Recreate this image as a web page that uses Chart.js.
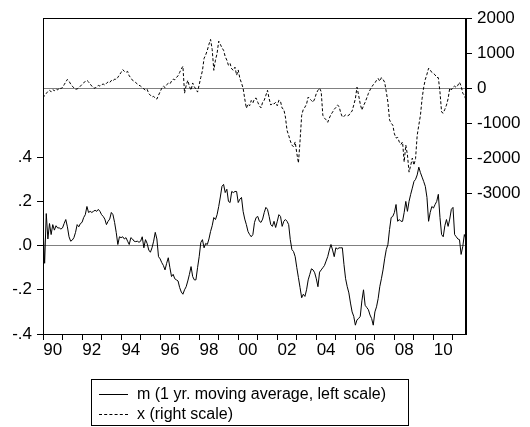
<!DOCTYPE html>
<html>
<head>
<meta charset="utf-8">
<script src="https://cdn.jsdelivr.net/npm/chart.js@4.4.0/dist/chart.umd.min.js"></script>
<style>
  html, body { margin: 0; padding: 0; background: #fff; }
  #wrap { position: relative; width: 530px; height: 427px; }
  #legend {
    position: absolute; left: 91px; top: 379px; width: 316px; height: 45px;
    border: 1px solid #000; font: 16px 'Liberation Sans', Arial, sans-serif; color: #000;
  }
  #legend .row { display: flex; align-items: center; height: 20px; margin-left: 7px; }
  #legend .row:first-child { margin-top: 4px; }
  #legend .swatch { width: 29px; height: 0; margin-right: 9px; border-top: 1px solid #000; }
</style>
</head>
<body>
<div id="wrap">
  <canvas id="chart" width="530" height="427"></canvas>
  <div id="legend"></div>
</div>
<script>
;(function () {
  'use strict'

  // monthly observations, 1990M01 onwards
  var startYear = 1990
  var mLabel = 'm (1 yr. moving average, left scale)'
  var xLabel = 'x (right scale)'

  var mValues = [
    0.09, -0.08, 0.145, 0.03, 0.10, 0.05, 0.095, 0.07, 0.09, 0.08, 0.08, 0.075,
    0.08, 0.10, 0.118, 0.085, 0.04, 0.02, 0.025, 0.036, 0.06, 0.095, 0.085, 0.10,
    0.105, 0.127, 0.14, 0.177, 0.15, 0.155, 0.15, 0.155, 0.16, 0.155, 0.164, 0.155,
    0.14, 0.132, 0.12, 0.095, 0.11, 0.12, 0.15, 0.14, 0.105, 0.06, 0.005, 0.04,
    0.036, 0.04, 0.03, 0.036, 0.02, 0.005, 0.036, 0.03, 0.02, 0.018, 0.02,
    0.015, 0.02, 0.04, -0.01, 0.027, 0.01, -0.02, -0.03, -0.01, 0.02, 0.06, 0.03,
    -0.05, -0.06, -0.077, -0.09, -0.11, -0.08, -0.055, -0.1, -0.14, -0.13, -0.15, -0.155,
    -0.16, -0.19, -0.21, -0.22, -0.2, -0.186, -0.16, -0.13, -0.095, -0.14, -0.155, -0.155,
    -0.1, -0.05, 0.014, 0.027, -0.01, 0.01, 0.005, 0.03, 0.064, 0.09, 0.127, 0.118,
    0.14, 0.177, 0.22, 0.268, 0.277, 0.24, 0.255, 0.2, 0.195, 0.245, 0.24, 0.245,
    0.245, 0.195, 0.21, 0.218, 0.155, 0.12, 0.095, 0.064, 0.05, 0.04, 0.05,
    0.105, 0.127, 0.132, 0.11, 0.105, 0.12, 0.15, 0.173, 0.164, 0.132, 0.095, 0.087,
    0.11, 0.082, 0.11, 0.14, 0.132, 0.087, 0.11, 0.118, 0.11, 0.095, 0.027, -0.018,
    -0.027, -0.05, -0.1, -0.145, -0.19, -0.236, -0.22, -0.23, -0.2, -0.155, -0.13, -0.105,
    -0.11, -0.123, -0.15, -0.186, -0.12, -0.11, -0.1, -0.09, -0.07, -0.05, -0.02, 0.005,
    -0.02, -0.05, -0.01, -0.015, -0.01, -0.01, -0.01, -0.086, -0.15, -0.186, -0.214,
    -0.26, -0.3, -0.32, -0.36, -0.336, -0.33, -0.32, -0.25, -0.2, -0.27, -0.28, -0.29,
    -0.314, -0.33, -0.36, -0.3, -0.277, -0.24, -0.186, -0.15, -0.11, -0.06, -0.018, 0.005,
    0.073, 0.127, 0.132, 0.15, 0.186, 0.11, 0.118, 0.11, 0.11, 0.15, 0.2, 0.155,
    0.2, 0.232, 0.26, 0.29, 0.3, 0.32, 0.355, 0.33, 0.31, 0.29, 0.268, 0.218,
    0.11, 0.15, 0.177, 0.17, 0.186, 0.2, 0.232, 0.127, 0.05, 0.04, 0.09, 0.118,
    0.087, 0.12, 0.164, 0.173, 0.05, 0.04, 0.03, 0.027, -0.04, -0.005, 0.05, 0.03
  ]

  var xValues = [
    -280, -200, -150, -90, -60, -100, -40, -70, -20, -50, 10, -10,
    20, 100, 180, 250, 200, 120, 60, 10, -30, -20, 10, 60,
    110, 150, 200, 225, 180, 120, 60, 10, 0, 50, 80, 60,
    100, 120, 90, 140, 180, 160, 220, 200, 260, 250, 310,
    380, 450, 530, 480, 450, 480, 350, 300, 225, 200, 160, 120,
    85, 60, 20, -20, -57, -30, -150, -200, -250, -230, -290, -310,
    -200, -100, 0, 60, 20, 100, 140, 120, 200, 260, 240, 310,
    350, 450, 550, 625, -140, 80, 225, 50, -57, 150, 40, -20,
    -110, 100, 310, 500, 850, 950, 1080, 1250, 1390, 1100, 510, 800,
    990, 1340, 1250, 1150, 1080, 900, 800, 650, 700, 550, 510, 600,
    370, 520, 280, 150, 0, -300, -570, -450, -500, -350, -420, -300,
    -280, -400, -500, -560, -400, -340, -200, -60, -300, -480, -430,
    -450, -400, -500, -340, -380, -570, -600, -820, -1200, -1340, -1500, -1620,
    -1670, -1530, -1850, -2130, -1500, -770, -600, -540, -450, -250, -300, -350,
    -400, -300, -150, -57, 0, -100, -770, -850, -900, -970, -850, -750,
    -680, -600, -550, -480, -520, -700, -820, -800, -760, -790, -770,
    -700, -650, -480, -300, 30, -200, -450, -620, -500, -400, -280, -150,
    -50, 30, 100, 150, 225, 280, 200, 300, 250, 170, -100, -400,
    -900, -1000, -1050, -1300, -1420, -1400, -1530, -1600, -1530, -2100, -1620, -1900,
    -2390, -2200, -1990, -2190, -2000, -1340, -1050, -770, -300, 30, 250, 400,
    570, 520, 450, 420, 380, 310, 300, -110, -680, -710, -600, -480,
    -300, 0, -50, 30, 60, 20, 85, 170, 60, -140, -200, -340
  ]

  var leftTicks = [-0.4, -0.2, 0, 0.2, 0.4]
  var rightTicks = [-3000, -2000, -1000, 0, 1000, 2000]

  var font = { family: "'Liberation Sans', Arial, sans-serif", size: 17 }

  var toPoints = function (values) {
    return values.map(function (v, i) {
      return { x: startYear + i / 12, y: v }
    })
  }

  var zeroLine = function (ctx) {
    return ctx.tick && ctx.tick.value === 0 ? '#808080' : 'rgba(0,0,0,0)'
  }

  var leftFormat = function (v) {
    var s = Math.abs(v).toFixed(1).replace(/^0/, '')
    return v < 0 ? '-' + s : s
  }

  var frame = {
    id: 'frame',
    afterDraw: function (chart) {
      var a = chart.chartArea
      var ctx = chart.ctx
      ctx.save()
      ctx.strokeStyle = '#000'
      ctx.lineWidth = 1
      ctx.strokeRect(Math.round(a.left) + 0.5, Math.round(a.top) + 0.5, Math.round(a.right - a.left) - 1, Math.round(a.bottom - a.top))
      ctx.restore()
    }
  }

  var htmlLegend = {
    id: 'htmlLegend',
    afterUpdate: function (chart) {
      var box = document.getElementById('legend')
      box.innerHTML = ''
      chart.data.datasets.forEach(function (ds) {
        var row = document.createElement('div')
        row.className = 'row'
        var sw = document.createElement('span')
        sw.className = 'swatch'
        if (ds.borderDash && ds.borderDash.length) {
          sw.style.borderTopStyle = 'dashed'
        }
        var tx = document.createElement('span')
        tx.textContent = ds.label
        row.appendChild(sw)
        row.appendChild(tx)
        box.appendChild(row)
      })
    }
  }

  new Chart(document.getElementById('chart'), {
    type: 'line',
    data: {
      datasets: [
        {
          label: mLabel,
          data: toPoints(mValues),
          yAxisID: 'y',
          borderColor: '#000',
          borderWidth: 1,
          pointRadius: 0,
          tension: 0,
          fill: false
        },
        {
          label: xLabel,
          data: toPoints(xValues),
          yAxisID: 'y2',
          borderColor: '#000',
          borderWidth: 1,
          borderDash: [3, 2],
          pointRadius: 0,
          tension: 0,
          fill: false
        }
      ]
    },
    options: {
      responsive: false,
      animation: false,
      layout: { padding: { top: 18, left: 0, right: 0, bottom: 0 } },
      plugins: {
        legend: { display: false },
        tooltip: { enabled: false }
      },
      scales: {
        x: {
          type: 'linear',
          min: startYear,
          max: startYear + (mValues.length - 1) / 12,
          afterBuildTicks: function (s) {
            var t = []
            for (var v = startYear; v <= s.max; v += 0.5) t.push({ value: v })
            s.ticks = t
          },
          afterFit: function (s) { s.height = 93 },
          border: { color: '#000', width: 1 },
          grid: {
            drawOnChartArea: false,
            tickLength: 6,
            tickColor: function (c) {
              return c.tick && Number.isInteger(c.tick.value) ? '#000' : 'rgba(0,0,0,0)'
            }
          },
          ticks: {
            autoSkip: false,
            maxRotation: 0,
            padding: 0,
            color: '#000',
            font: font,
            callback: function (v) {
              if (v % 2 !== 0.5) return ''
              var yy = Math.floor(v) % 100
              return (yy < 10 ? '0' : '') + yy
            }
          }
        },
        y: {
          position: 'left',
          min: -0.4,
          max: 1.03,
          afterBuildTicks: function (s) {
            s.ticks = leftTicks.map(function (v) { return { value: v } })
          },
          afterFit: function (s) { s.width = 43 },
          border: { color: '#000', width: 1 },
          grid: { color: zeroLine, tickColor: '#000', tickLength: 6, lineWidth: 1 },
          ticks: { padding: 5, color: '#000', font: font, callback: leftFormat }
        },
        y2: {
          position: 'right',
          min: -7000,
          max: 2000,
          afterBuildTicks: function (s) {
            s.ticks = rightTicks.map(function (v) { return { value: v } })
          },
          afterFit: function (s) { s.width = 64 },
          border: { color: '#000', width: 1 },
          grid: { color: zeroLine, tickColor: '#000', tickLength: 6, lineWidth: 1 },
          ticks: {
            padding: 5,
            color: '#000',
            font: font,
            callback: function (v) { return String(v) }
          }
        }
      }
    },
    plugins: [frame, htmlLegend]
  })
})()
</script>
</body>
</html>
